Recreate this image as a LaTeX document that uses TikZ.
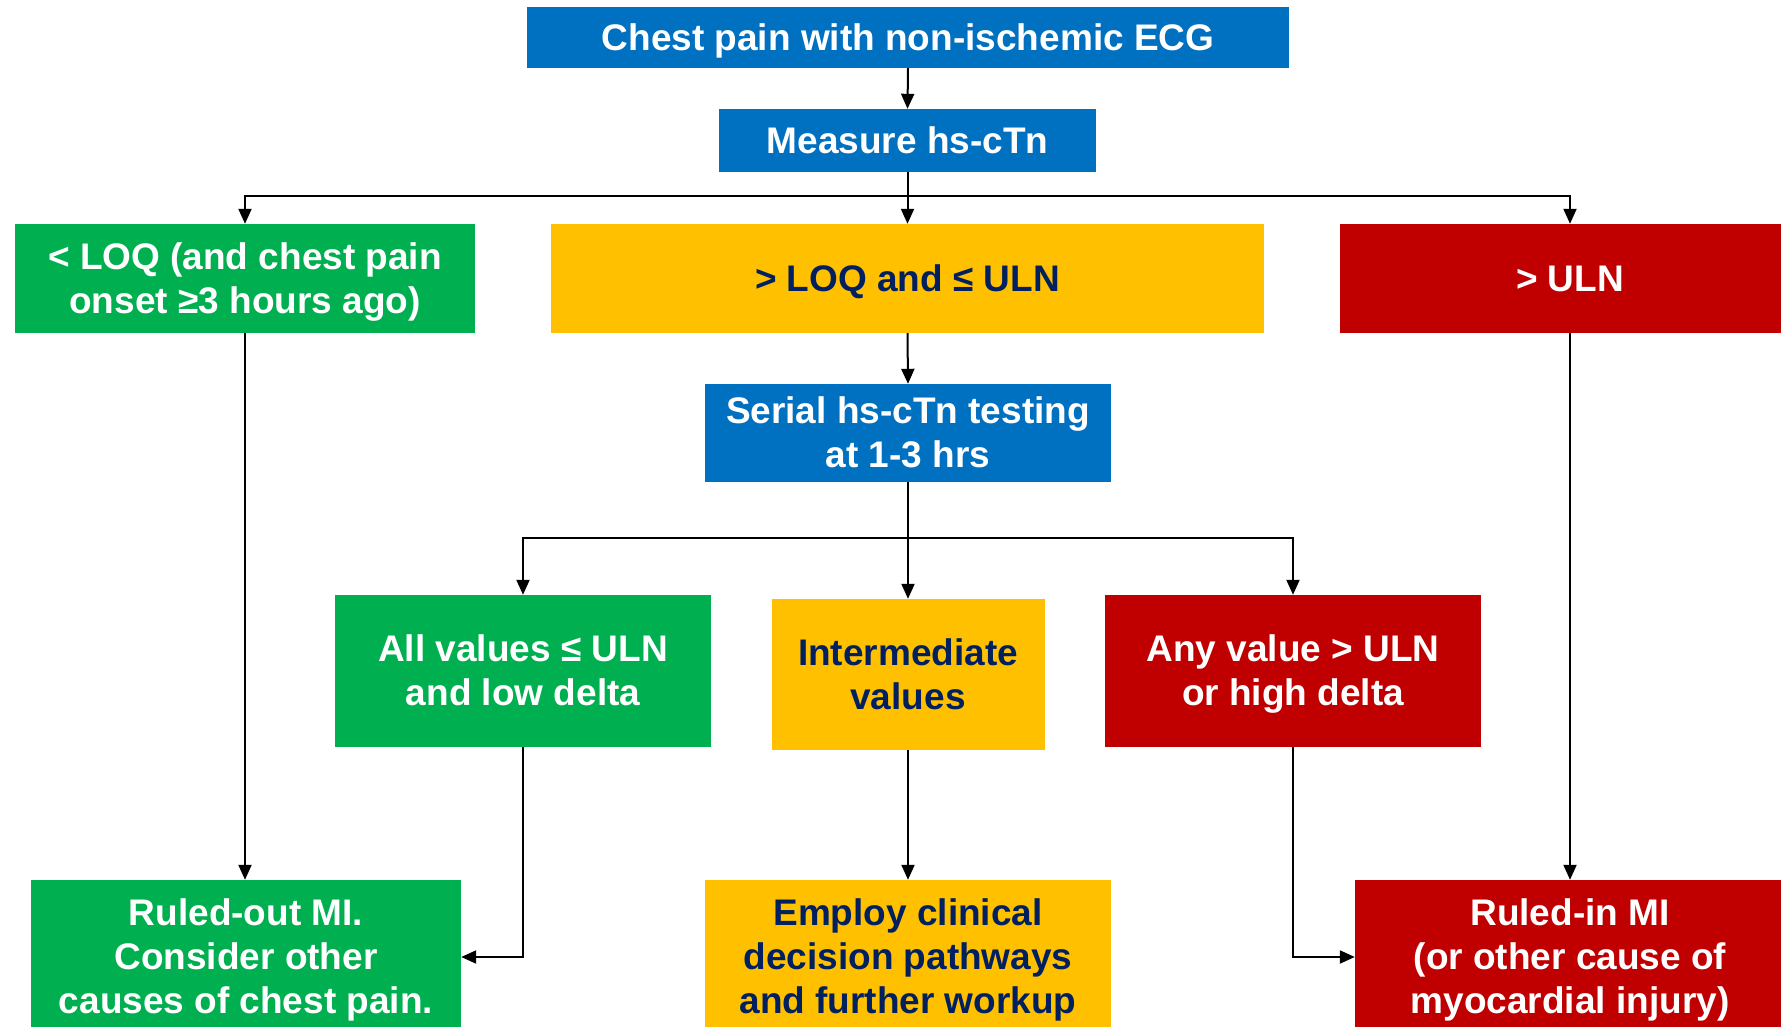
\documentclass[tikz,border=0pt]{standalone}
\usepackage{fontspec}
\setmainfont{Liberation Sans}
\usetikzlibrary{arrows.meta}
\definecolor{cblue}{HTML}{0070C0}
\definecolor{cgreen}{HTML}{00B050}
\definecolor{cyellow}{HTML}{FFC000}
\definecolor{cred}{HTML}{C00000}
\definecolor{cnavy}{HTML}{002060}
\newcommand{\ls}{\rule[-0.212em]{0pt}{1.117em}}
\tikzset{
  box/.style={draw=none, inner sep=0pt, align=center, font=\fontsize{37}{44}\selectfont\bfseries},
  bluebox/.style={box, fill=cblue, text=white},
  greenbox/.style={box, fill=cgreen, text=white},
  yellowbox/.style={box, fill=cyellow, text=cnavy},
  redbox/.style={box, fill=cred, text=white},
  arr/.style={draw=black, line width=2pt, -{Triangle[width=13pt,length=15pt]}},
}
\begin{document}
\begin{tikzpicture}[x=1pt,y=-1pt]
\useasboundingbox (0,0) rectangle (1781,1027);
\clip (0,0) rectangle (1781,1027);
\node[bluebox, minimum width=762pt, minimum height=61pt] (top) at (908,37.5) {\ls Chest pain with non-ischemic ECG\ls};
\node[bluebox, minimum width=377pt, minimum height=63pt] (meas) at (907.5,140.5) {\ls Measure hs-cTn\ls};
\node[greenbox, minimum width=460pt, minimum height=109pt] (loq) at (245,278.5) {\ls < LOQ (and chest pain\ls\\\ls onset ≥3 hours ago)\ls};
\node[yellowbox, minimum width=713pt, minimum height=109pt] (mid) at (907.5,278.5) {\ls > LOQ and ≤ ULN\ls};
\node[redbox, minimum width=460pt, minimum height=109pt] (uln) at (1570,278.5) {\ls > ULN\ls};
\node[bluebox, minimum width=406pt, minimum height=98pt] (serial) at (908,433) {\ls Serial hs-cTn testing\ls\\\ls at 1-3 hrs\ls};
\node[greenbox, minimum width=376pt, minimum height=152pt] (allv) at (523,671) {\ls All values ≤ ULN\ls\\\ls and low delta\ls};
\node[yellowbox, minimum width=273pt, minimum height=151pt] (inter) at (908,674.5) {\ls Intermediate\ls\\\ls values\ls};
\node[redbox, minimum width=376pt, minimum height=152pt] (anyv) at (1293,671) {\ls Any value > ULN\ls\\\ls or high delta\ls};
\node[greenbox, minimum width=430pt, minimum height=154pt] (rout) at (246,957) {\ls Ruled-out MI.\ls\\\ls Consider other\ls\\\ls causes of chest pain.\ls};
\node[yellowbox, minimum width=406pt, minimum height=154pt] (employ) at (908,957) {\ls Employ clinical\ls\\\ls decision pathways\ls\\\ls and further workup\ls};
\node[redbox, minimum width=430pt, minimum height=154pt] (rin) at (1570,957) {\ls Ruled-in MI\ls\\\ls (or other cause of\ls\\\ls myocardial injury)\ls};
\coordinate (b1) at (908,196.5);
\coordinate (b2) at (908,538);
\draw[arr] (top.south) -- (meas.north);
\draw[arr] (meas.south) -- (mid.north);
\draw[arr] (b1) -| (loq.north);
\draw[arr] (b1) -| (uln.north);
\draw[arr] (mid.south) -- (serial.north);
\draw[arr] (serial.south) -- (inter.north);
\draw[arr] (b2) -| (allv.north);
\draw[arr] (b2) -| (anyv.north);
\draw[arr] (loq.south) -- (loq.south |- rout.north);
\draw[arr] (uln.south) -- (uln.south |- rin.north);
\draw[arr] (inter.south) -- (employ.north);
\draw[arr] (allv.south) |- (rout.east);
\draw[arr] (anyv.south) |- (rin.west);
\end{tikzpicture}
\end{document}
